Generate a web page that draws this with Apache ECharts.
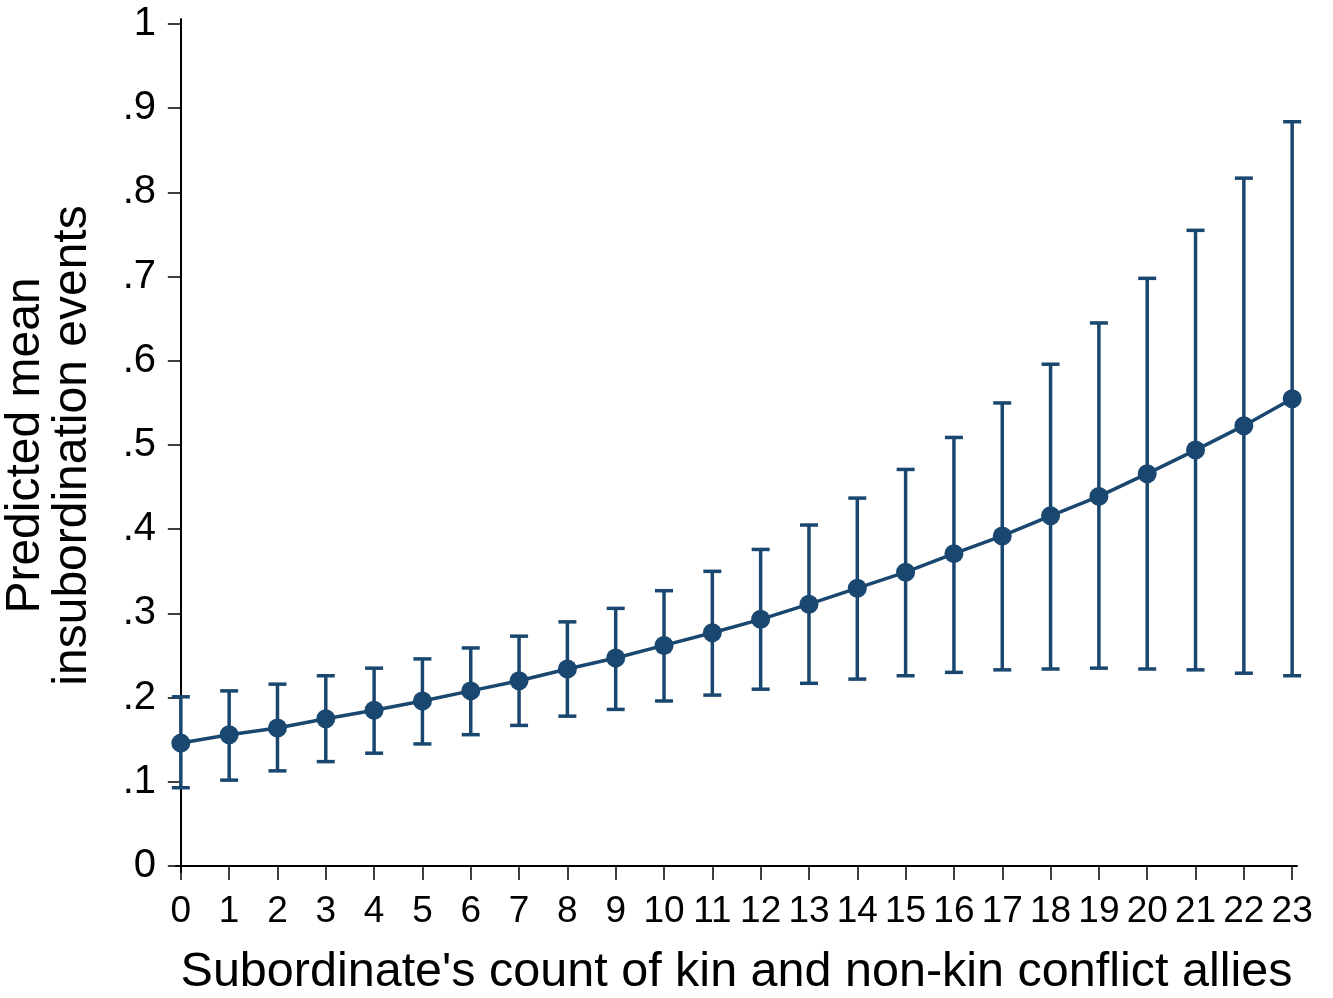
<!DOCTYPE html>
<html>
<head>
<meta charset="utf-8">
<script src="https://cdn.jsdelivr.net/npm/echarts@6/dist/echarts.min.js"></script>
<style>
  html, body { margin: 0; padding: 0; background: #fff; }
  #chart { width: 1333px; height: 998px; }
</style>
</head>
<body>
<div id="chart"></div>
<script>
// count of allies (x)
const allies = [0, 1, 2, 3, 4, 5, 6, 7, 8, 9, 10, 11, 12, 13, 14, 15, 16, 17, 18, 19, 20, 21, 22, 23];
// predicted mean insubordination events
const predicted = [0.146, 0.156, 0.164, 0.175, 0.185, 0.196, 0.208, 0.220, 0.234, 0.247, 0.262, 0.277,
    0.293, 0.311, 0.330, 0.349, 0.371, 0.392, 0.416, 0.439, 0.466, 0.494, 0.523, 0.555];
// confidence interval bounds
const upper = [0.201, 0.208, 0.216, 0.226, 0.235, 0.246, 0.259, 0.273, 0.290, 0.306, 0.327, 0.350,
    0.376, 0.405, 0.437, 0.471, 0.509, 0.550, 0.596, 0.645, 0.698, 0.755, 0.817, 0.884];
const lower = [0.093, 0.102, 0.113, 0.124, 0.134, 0.145, 0.156, 0.167, 0.178, 0.186, 0.196, 0.203,
    0.210, 0.217, 0.222, 0.226, 0.230, 0.233, 0.234, 0.235, 0.234, 0.233, 0.229, 0.226];
// y tick labels
const yTicks = [0, 0.1, 0.2, 0.3, 0.4, 0.5, 0.6, 0.7, 0.8, 0.9, 1];
const yLabels = ['0', '.1', '.2', '.3', '.4', '.5', '.6', '.7', '.8', '.9', '1'];

const navy = '#1a476f';

let chart = echarts.init(document.getElementById('chart'));

let ciData = allies.map((x, i) => [x, lower[i], upper[i]]);

let option = {
    backgroundColor: '#fff',
    animation: false,
    grid: {
        left: 176,
        right: 36,
        top: 19,
        bottom: 126,
        containLabel: false,
        outerBoundsMode: 'none'
    },
    xAxis: {
        type: 'value',
        min: -0.1,
        max: 23.1,
        splitLine: { show: false },
        axisLine: { lineStyle: { color: '#000', width: 2 } },
        axisTick: {
            customValues: allies,
            length: 14,
            lineStyle: { color: '#000', width: 1.5 }
        },
        axisLabel: {
            customValues: allies,
            margin: 21,
            color: '#000',
            fontSize: 37,
            fontFamily: 'Liberation Sans Narrow, Liberation Sans, Arial'
        },
        name: "Subordinate's count of kin and non-kin conflict allies",
        nameLocation: 'middle',
        nameGap: 76,
        nameTextStyle: {
            color: '#000',
            fontSize: 48.5,
            fontFamily: 'Liberation Sans, Arial'
        }
    },
    yAxis: {
        type: 'value',
        min: -0.0071,
        max: 1.006,
        splitLine: { show: false },
        axisLine: { show: true, lineStyle: { color: '#000', width: 2 } },
        axisTick: {
            show: true,
            customValues: yTicks,
            length: 13,
            lineStyle: { color: '#000', width: 1.5 }
        },
        axisLabel: {
            customValues: yTicks,
            margin: 20,
            color: '#000',
            fontSize: 40,
            fontFamily: 'Liberation Sans, Arial',
            formatter: function (v) {
                let i = yTicks.findIndex(t => Math.abs(t - v) < 1e-6);
                return i >= 0 ? yLabels[i] : '';
            }
        },
        name: 'Predicted mean\ninsubordination events',
        nameLocation: 'middle',
        nameRotate: 90,
        nameGap: 80,
        nameTextStyle: {
            color: '#000',
            fontSize: 48,
            lineHeight: 47,
            fontFamily: 'Liberation Sans, Arial'
        }
    },
    series: [
        {
            type: 'custom',
            data: ciData,
            encode: { x: 0, y: [1, 2] },
            renderItem: function (params, api) {
                let x = api.value(0);
                let lo = api.coord([x, api.value(1)]);
                let hi = api.coord([x, api.value(2)]);
                let half = 9;
                let style = { stroke: navy, lineWidth: 3.5, fill: null };
                return {
                    type: 'group',
                    children: [
                        { type: 'line', shape: { x1: lo[0], y1: lo[1], x2: hi[0], y2: hi[1] }, style: style },
                        { type: 'line', shape: { x1: lo[0] - half, y1: lo[1], x2: lo[0] + half, y2: lo[1] }, style: style },
                        { type: 'line', shape: { x1: hi[0] - half, y1: hi[1], x2: hi[0] + half, y2: hi[1] }, style: style }
                    ]
                };
            },
            z: 2
        },
        {
            type: 'line',
            data: allies.map((x, i) => [x, predicted[i]]),
            symbol: 'circle',
            symbolSize: 19,
            lineStyle: { color: navy, width: 3.5 },
            itemStyle: { color: navy },
            z: 3
        }
    ]
};
chart.setOption(option);
</script>
</body>
</html>
